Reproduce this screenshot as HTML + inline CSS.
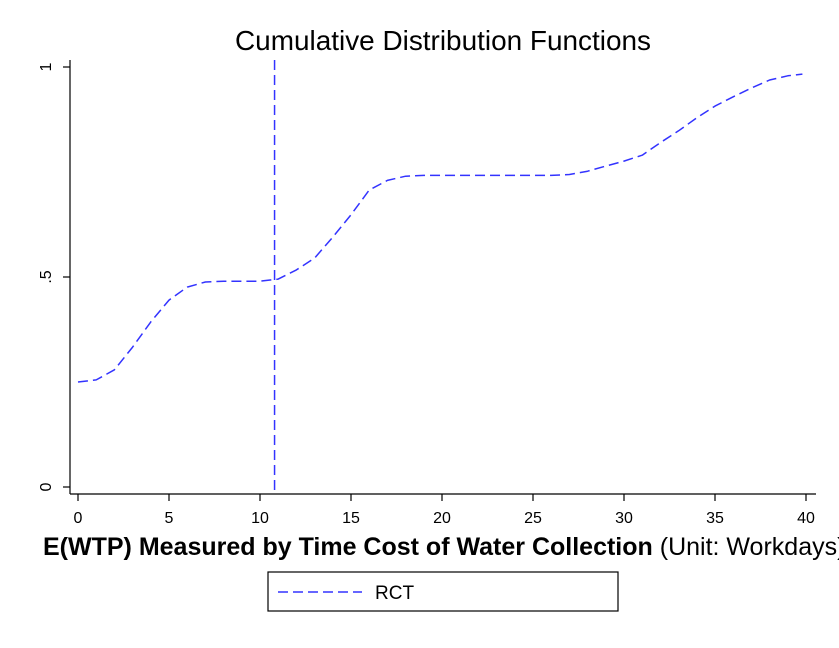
<!DOCTYPE html>
<html><head><meta charset="utf-8"><style>
body{margin:0;background:#fff;overflow:hidden;}
svg text{font-family:"Liberation Sans",Arial,sans-serif;}
</style></head><body>
<svg id="chart" width="839" height="643" viewBox="0 0 839 643" xmlns="http://www.w3.org/2000/svg">
<rect width="839" height="643" fill="#fff"/>
<text x="443" y="50" font-size="27.5" text-anchor="middle" fill="#000" textLength="416" lengthAdjust="spacingAndGlyphs">Cumulative Distribution Functions</text>
<g id="axes"></g>
<g id="marks"></g>
<text x="43" y="555" font-size="25" text-anchor="start" fill="#000"><tspan font-weight="bold">E(WTP) Measured by Time Cost of Water Collection</tspan> (Unit: Workdays)</text>
<g>
<rect x="268" y="572" width="350" height="39" fill="#fff" stroke="#000" stroke-width="1.2"/>
<line x1="278" y1="592" x2="362" y2="592" stroke="#3333ff" stroke-width="1.5" stroke-dasharray="10,5"/>
<text x="375" y="599" font-size="19" fill="#000">RCT</text>
</g>
</svg>
<script>
const xs = [0,1,2,3,4,5,6,7,8,9,10,11,12,13,14,15,16,17,18,19,20,22,24,26,27,28,29,30,31,32,33,34,35,36,37,38,39,39.8];
const cdf = [0.25,0.255,0.279,0.333,0.393,0.445,0.476,0.488,0.49,0.49,0.49,0.495,0.517,0.545,0.595,0.648,0.707,0.73,0.74,0.742,0.742,0.742,0.742,0.742,0.744,0.752,0.764,0.776,0.79,0.82,0.848,0.879,0.907,0.929,0.95,0.969,0.979,0.983];
const xTicks = [0,5,10,15,20,25,30,35,40];
const yTicks = [0,0.5,1];
const yTickLabels = ["0",".5","1"];
const refLine = 10.8;

const NS="http://www.w3.org/2000/svg";
const X = v => 78 + v*18.2;
const Y = v => 487 - v*420;
function mk(tag, attrs, parent){const e=document.createElementNS(NS,tag);for(const k in attrs)e.setAttribute(k,attrs[k]);parent.appendChild(e);return e;}
const axes=document.getElementById('axes'), marks=document.getElementById('marks');
let a=mk('line',{x1:70,y1:60,x2:70,y2:494,stroke:'#000','stroke-width':1.2},axes);


a=mk('line',{x1:70,y1:494,x2:816,y2:494,stroke:'#000','stroke-width':1.2},axes);


xTicks.forEach(t=>{
  const l=mk('line',{x1:X(t),y1:494,x2:X(t),y2:501,stroke:'#000','stroke-width':1.2},axes);
  
  
  const tx=mk('text',{x:X(t),y:523,'font-size':16,'text-anchor':'middle',fill:'#000'},axes);
  tx.textContent=t;
  
  
});
yTicks.forEach((t,i)=>{
  const l=mk('line',{x1:63,y1:Y(t),x2:70,y2:Y(t),stroke:'#000','stroke-width':1.2},axes);
  
  
  const tx=mk('text',{x:0,y:0,'font-size':16,'text-anchor':'middle',fill:'#000',transform:`translate(51,${Y(t)}) rotate(-90)`},axes);
  tx.textContent=yTickLabels[i];
  
  
});
let d='';
xs.forEach((x,i)=>{d+=(i?'L':'M')+X(x).toFixed(1)+','+Y(cdf[i]).toFixed(1);});
const p=mk('path',{d:d,fill:'none',stroke:'#3333ff','stroke-width':1.5,'stroke-dasharray':'10,5','stroke-linejoin':'round'},marks);


const v=mk('line',{x1:X(refLine),y1:60,x2:X(refLine),y2:494,stroke:'#3333ff','stroke-width':1.5,'stroke-dasharray':'10,5'},marks);


</script>
</body></html>
